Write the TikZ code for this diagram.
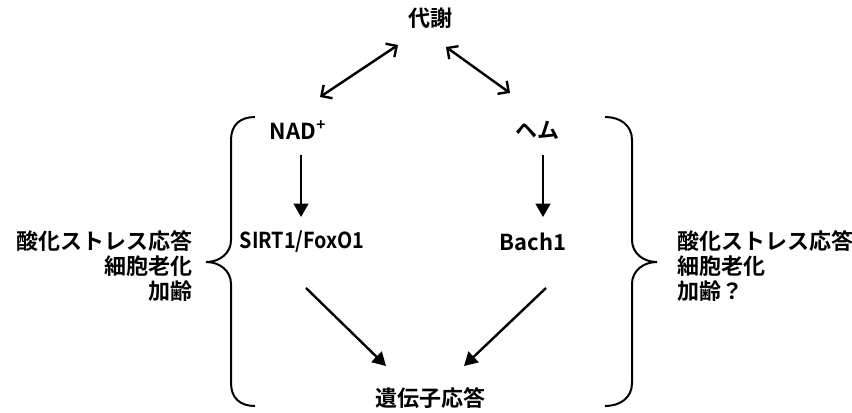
\documentclass[tikz,border=0pt]{standalone}
\usepackage{fontspec}
\setmainfont{Noto Sans CJK JP}[UprightFont=* Bold]
\usetikzlibrary{arrows.meta}
\tikzset{
  lbl/.style={inner sep=0pt, font=\fontsize{16.5}{19}\selectfont},
  twoway/.style={line width=1.8pt, {Straight Barb[length=6pt,width=12pt]}-{Straight Barb[length=6pt,width=12pt]}},
  oneway/.style={line width=1.8pt, -{Triangle[length=10pt,width=11pt]}},
  brace/.style={line width=1.5pt}
}
\begin{document}
\begin{tikzpicture}[x=0.75pt,y=-0.75pt]
\useasboundingbox (0,0) rectangle (852,413);

% labels
\node[lbl] (met)  at (430,18)  {代謝};
\node[lbl] (nad)  at (298,130) {NAD\textsuperscript{+}};
\node[lbl] (hem)  at (537,130) {ヘム};
\node[lbl] (sirt) at (302,242) {\scalebox{0.9}[1]{SIRT1/FoxO1}};
\node[lbl] (bach) at (533,242) {Bach1};
\node[lbl] (gene) at (430,398) {遺伝子応答};
\node[lbl, align=right, anchor=east] (effL) at (193,266) {酸化ストレス応答\\細胞老化\\加齢};
\node[lbl, align=left, anchor=west]  (effR) at (677,266) {酸化ストレス応答\\細胞老化\\加齢？};

% metabolism links
\draw[twoway] ([shift={(22,-33)}]nad.center) -- ([shift={(-32,27)}]met.center);
\draw[twoway] ([shift={(16,29)}]met.center) -- ([shift={(-27,-37)}]hem.center);

% signalling chain
\draw[oneway] ([shift={(3,25)}]nad.center) -- ([shift={(-1,-25)}]sirt.center);
\draw[oneway] ([shift={(6,25)}]hem.center) -- ([shift={(10,-25)}]bach.center);
\draw[oneway] ([shift={(4,46)}]sirt.center) -- ([shift={(-44,-32)}]gene.center);
\draw[oneway] ([shift={(13,46)}]bach.center) -- ([shift={(34,-32)}]gene.center);

% left brace
\draw[brace] (255,117) .. controls (240,117) and (231,125) .. (231,140)
  -- (231,240) .. controls (231,253) and (220,262) .. (206,262)
  .. controls (220,262) and (231,271) .. (231,284)
  -- (231,383) .. controls (231,398) and (240,406) .. (255,406);
% right brace
\draw[brace] (605,117) .. controls (620,117) and (632,125) .. (632,140)
  -- (632,240) .. controls (632,253) and (643,262) .. (657,262)
  .. controls (643,262) and (632,271) .. (632,284)
  -- (632,383) .. controls (632,398) and (620,406) .. (605,406);
\end{tikzpicture}
\end{document}
